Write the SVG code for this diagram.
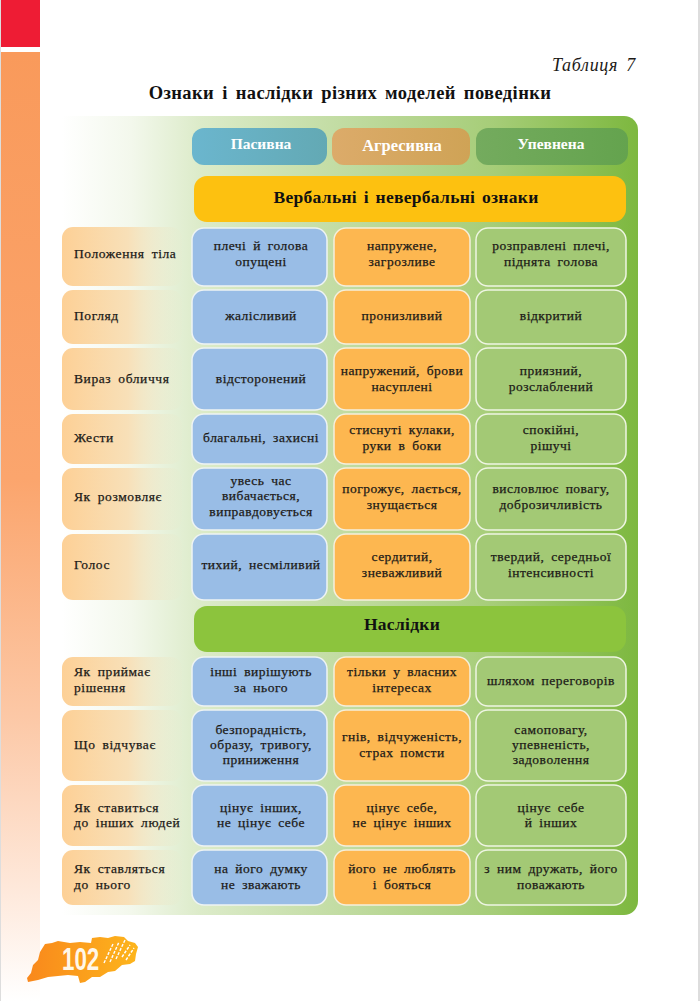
<svg xmlns="http://www.w3.org/2000/svg" width="700" height="1001" viewBox="0 0 700 1001">
<style>
text{font-family:"Liberation Serif","Noto Sans CJK SC",serif;fill:#1c1a17}
.c{font-size:13.5px;text-anchor:middle;letter-spacing:.5px;word-spacing:3px;stroke:#1c1a17;stroke-width:.25px}
.l{font-size:13.5px;letter-spacing:.6px;word-spacing:3px;stroke:#1c1a17;stroke-width:.25px}
.h{font-size:15.5px;font-weight:bold;text-anchor:middle;fill:#fff}
.s{font-size:17.5px;font-weight:bold;text-anchor:middle;letter-spacing:.3px;word-spacing:2px;fill:#111}
.b{fill:#99bde6;stroke:#eef3f3;stroke-width:1.5}
.o{fill:#fdb750;stroke:#f5efdc;stroke-width:1.5}
.g{fill:#a3c975;stroke:#eef5e2;stroke-width:1.5}
.r{fill:url(#lab)}
</style>
<defs>
<linearGradient id="bar" x1="0" y1="0" x2="0" y2="1"><stop offset="0" stop-color="#f99a5b"/><stop offset=".45" stop-color="#fba56d"/><stop offset=".7" stop-color="#fcc8a6"/><stop offset=".88" stop-color="#fee8da"/><stop offset="1" stop-color="#fff"/></linearGradient>
<linearGradient id="bg" x1="0" y1="0" x2="1" y2="0"><stop offset="0" stop-color="#fff"/><stop offset=".12" stop-color="#f3f8ec"/><stop offset=".24" stop-color="#dcebc9"/><stop offset=".5" stop-color="#c0dba0"/><stop offset=".75" stop-color="#a6cd78"/><stop offset="1" stop-color="#7db83f"/></linearGradient>
<linearGradient id="lab" x1="0" y1="0" x2="1" y2="0"><stop offset="0" stop-color="#fdd096"/><stop offset=".55" stop-color="#f8e0b8"/><stop offset="1" stop-color="#e6eccf" stop-opacity=".2"/></linearGradient>
<linearGradient id="h1" x1="0" y1="0" x2="1" y2="0"><stop offset="0" stop-color="#6bb6ce"/><stop offset="1" stop-color="#63a9b4"/></linearGradient>
<linearGradient id="h2" x1="0" y1="0" x2="1" y2="0"><stop offset="0" stop-color="#dcab6a"/><stop offset="1" stop-color="#cfa356"/></linearGradient>
<linearGradient id="h3" x1="0" y1="0" x2="1" y2="0"><stop offset="0" stop-color="#74ab5e"/><stop offset="1" stop-color="#64a34e"/></linearGradient>
<linearGradient id="br" x1="0" y1="0" x2="1" y2="0"><stop offset="0" stop-color="#f9881c"/><stop offset="1" stop-color="#fdb51c"/></linearGradient>
</defs>
<rect width="700" height="1001" fill="#fff"/>
<rect x="698" y="0" width="2" height="1001" fill="#ddd"/>
<rect x="0" width="1" height="1001" fill="#ddd"/>
<rect x="1" y="0" width="39" height="47" fill="#ee1c34"/>
<rect x="1" y="52" width="39" height="949" fill="url(#bar)"/>
<text x="636" y="71" text-anchor="end" style="font-size:18px;font-style:italic;letter-spacing:.7px;word-spacing:3px">Таблиця 7</text>
<text x="350" y="99" class="s" style="font-size:18.5px;letter-spacing:.4px;word-spacing:3px">Ознаки і наслідки різних моделей поведінки</text>
<path d="M62 116H624a14 14 0 0 1 14 14V901a14 14 0 0 1-14 14H62Z" fill="url(#bg)"/>

<g id="head-pasyvna"><rect x="192" y="128" width="135" height="37" rx="12" fill="url(#h1)"/><text x="261" y="149" class="h">Пасивна</text></g>
<g id="head-ahresyvna"><rect x="332" y="128" width="138" height="37" rx="12" fill="url(#h2)"/><text x="402" y="151" class="h" style="font-size:16.5px">Агресивна</text></g>
<g id="head-upevnena"><rect x="476" y="128" width="152" height="37" rx="12" fill="url(#h3)"/><text x="551" y="149" class="h">Упевнена</text></g>
<g id="section-1"><rect x="194" y="176" width="432" height="46" rx="13" fill="#fdc110"/><text x="406" y="203" class="s">Вербальні і невербальні ознаки</text></g>

<g id="row-1">
<rect x="62" y="227" width="120" height="59" rx="11" class="r"/><text x="74" y="258" class="l">Положення тіла</text>
<rect x="192" y="228" width="135" height="58" rx="12" class="b"/><text x="261" y="250" class="c">плечі й голова</text><text x="261" y="266" class="c">опущені</text>
<rect x="334" y="228" width="136" height="58" rx="12" class="o"/><text x="402" y="250" class="c">напружене,</text><text x="402" y="266" class="c">загрозливе</text>
<rect x="476" y="228" width="150" height="58" rx="12" class="g"/><text x="551" y="250" class="c">розправлені плечі,</text><text x="551" y="266" class="c">піднята голова</text>
</g>
<g id="row-2">
<rect x="62" y="290" width="120" height="54" rx="11" class="r"/><text x="74" y="320" class="l">Погляд</text>
<rect x="192" y="290" width="135" height="54" rx="12" class="b"/><text x="261" y="320" class="c">жалісливий</text>
<rect x="334" y="290" width="136" height="54" rx="12" class="o"/><text x="402" y="320" class="c">пронизливий</text>
<rect x="476" y="290" width="150" height="54" rx="12" class="g"/><text x="551" y="320" class="c">відкритий</text>
</g>
<g id="row-3">
<rect x="62" y="348" width="120" height="62" rx="11" class="r"/><text x="74" y="383" class="l">Вираз обличчя</text>
<rect x="192" y="348" width="135" height="62" rx="12" class="b"/><text x="261" y="383" class="c">відсторонений</text>
<rect x="334" y="348" width="136" height="62" rx="12" class="o"/><text x="402" y="375" class="c">напружений, брови</text><text x="402" y="391" class="c">насуплені</text>
<rect x="476" y="348" width="150" height="62" rx="12" class="g"/><text x="551" y="375" class="c">приязний,</text><text x="551" y="391" class="c">розслаблений</text>
</g>
<g id="row-4">
<rect x="62" y="414" width="120" height="50" rx="11" class="r"/><text x="74" y="442" class="l">Жести</text>
<rect x="192" y="414" width="135" height="50" rx="12" class="b"/><text x="261" y="442" class="c">благальні, захисні</text>
<rect x="334" y="414" width="136" height="50" rx="12" class="o"/><text x="402" y="434" class="c">стиснуті кулаки,</text><text x="402" y="450" class="c">руки в боки</text>
<rect x="476" y="414" width="150" height="50" rx="12" class="g"/><text x="551" y="434" class="c">спокійні,</text><text x="551" y="450" class="c">рішучі</text>
</g>
<g id="row-5">
<rect x="62" y="468" width="120" height="62" rx="11" class="r"/><text x="74" y="501" class="l">Як розмовляє</text>
<rect x="192" y="468" width="135" height="62" rx="12" class="b"/><text x="261" y="485" class="c">увесь час</text><text x="261" y="500" class="c">вибачається,</text><text x="261" y="516" class="c">виправдовується</text>
<rect x="334" y="468" width="136" height="62" rx="12" class="o"/><text x="402" y="493" class="c">погрожує, лається,</text><text x="402" y="509" class="c">знущається</text>
<rect x="476" y="468" width="150" height="62" rx="12" class="g"/><text x="551" y="493" class="c">висловлює повагу,</text><text x="551" y="509" class="c">доброзичливість</text>
</g>
<g id="row-6">
<rect x="62" y="534" width="120" height="66" rx="11" class="r"/><text x="74" y="569" class="l">Голос</text>
<rect x="192" y="534" width="135" height="66" rx="12" class="b"/><text x="261" y="569" class="c">тихий, несміливий</text>
<rect x="334" y="534" width="136" height="66" rx="12" class="o"/><text x="402" y="561" class="c">сердитий,</text><text x="402" y="577" class="c">зневажливий</text>
<rect x="476" y="534" width="150" height="66" rx="12" class="g"/><text x="551" y="561" class="c">твердий, середньої</text><text x="551" y="577" class="c">інтенсивності</text>
</g>
<g id="section-2"><rect x="194" y="606" width="432" height="46" rx="13" fill="#8cc43d"/><text x="402" y="630" class="s">Наслідки</text></g>
<g id="row-7">
<rect x="62" y="657" width="120" height="49" rx="11" class="r"/><text x="74" y="676" class="l">Як приймає</text><text x="74" y="692" class="l">рішення</text>
<rect x="192" y="657" width="135" height="49" rx="12" class="b"/><text x="261" y="676" class="c">інші вирішують</text><text x="261" y="692" class="c">за нього</text>
<rect x="334" y="657" width="136" height="49" rx="12" class="o"/><text x="402" y="676" class="c">тільки у власних</text><text x="402" y="692" class="c">інтересах</text>
<rect x="476" y="657" width="150" height="49" rx="12" class="g"/><text x="551" y="685" class="c">шляхом переговорів</text>
</g>
<g id="row-8">
<rect x="62" y="710" width="120" height="71" rx="11" class="r"/><text x="74" y="749" class="l">Що відчуває</text>
<rect x="192" y="710" width="135" height="71" rx="12" class="b"/><text x="261" y="734" class="c">безпорадність,</text><text x="261" y="749" class="c">образу, тривогу,</text><text x="261" y="764" class="c">приниження</text>
<rect x="334" y="710" width="136" height="71" rx="12" class="o"/><text x="402" y="741" class="c">гнів, відчуженість,</text><text x="402" y="757" class="c">страх помсти</text>
<rect x="476" y="710" width="150" height="71" rx="12" class="g"/><text x="551" y="734" class="c">самоповагу,</text><text x="551" y="749" class="c">упевненість,</text><text x="551" y="764" class="c">задоволення</text>
</g>
<g id="row-9">
<rect x="62" y="785" width="120" height="61" rx="11" class="r"/><text x="74" y="812" class="l">Як ставиться</text><text x="74" y="827" class="l">до інших людей</text>
<rect x="192" y="785" width="135" height="61" rx="12" class="b"/><text x="261" y="812" class="c">цінує інших,</text><text x="261" y="827" class="c">не цінує себе</text>
<rect x="334" y="785" width="136" height="61" rx="12" class="o"/><text x="402" y="812" class="c">цінує себе,</text><text x="402" y="827" class="c">не цінує інших</text>
<rect x="476" y="785" width="150" height="61" rx="12" class="g"/><text x="551" y="812" class="c">цінує себе</text><text x="551" y="827" class="c">й інших</text>
</g>
<g id="row-10">
<rect x="62" y="850" width="120" height="55" rx="11" class="r"/><text x="74" y="873" class="l">Як ставляться</text><text x="74" y="889" class="l">до нього</text>
<rect x="192" y="850" width="135" height="55" rx="12" class="b"/><text x="261" y="873" class="c">на його думку</text><text x="261" y="889" class="c">не зважають</text>
<rect x="334" y="850" width="136" height="55" rx="12" class="o"/><text x="402" y="873" class="c">його не люблять</text><text x="402" y="889" class="c">і бояться</text>
<rect x="476" y="850" width="150" height="55" rx="12" class="g"/><text x="551" y="873" class="c">з ним дружать, його</text><text x="551" y="889" class="c">поважають</text>
</g>
<g id="page-number">
<path d="M28 982 27 978 31 973 33 965 38 960 40 952 45 944 52 943 58 941 70 943 80 942 91 943 92 938 100 937 108 938 115 936 124 937 128 941 135 943 138 947 136 954 135 961 130 964 122 965 115 971 108 972 100 977 92 977 85 982 80 983 78 976 68 975 58 976 48 977 38 980Z" fill="url(#br)"/>
<path d="M104 963 113 944M110 962 119 942M116 959 125 940M122 957 130 945M126 960 134 948" stroke="#fff" stroke-width="1.4" stroke-dasharray="3 1.5" fill="none"/>
<text transform="translate(62 970) scale(.72 1)" style="font-family:'Liberation Sans',sans-serif;font-size:31px;font-weight:bold;fill:#fff7e8">102</text>
</g>
</svg>
